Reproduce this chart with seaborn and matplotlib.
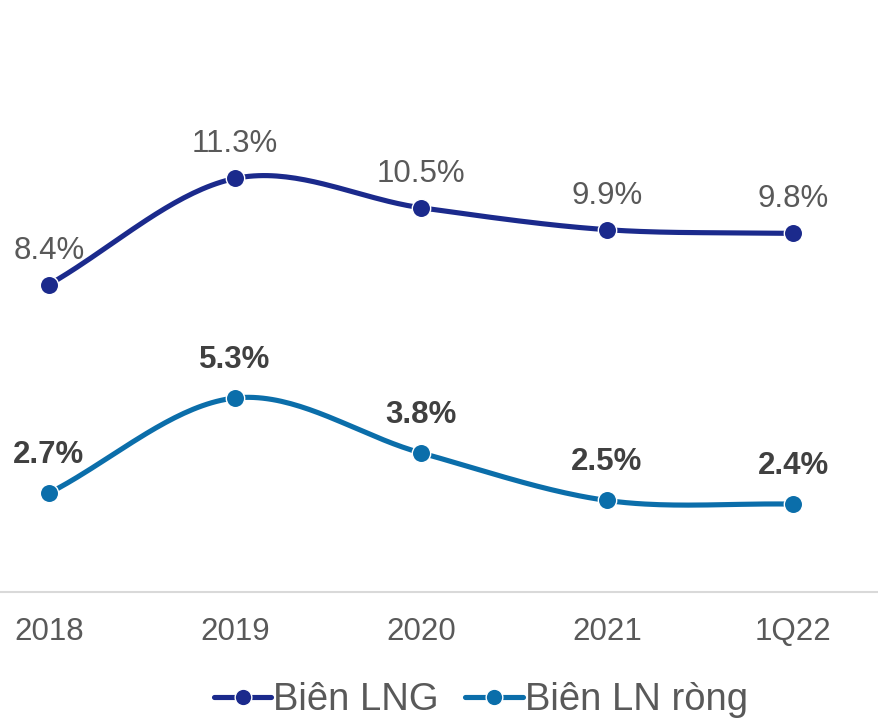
import matplotlib
matplotlib.use("Agg")
import matplotlib.pyplot as plt
from matplotlib.lines import Line2D
import seaborn as sns
import numpy as np
import pandas as pd

periods = ["2018", "2019", "2020", "2021", "1Q22"]
bien_lng = [8.4, 11.3, 10.5, 9.9, 9.8]
bien_ln_rong = [2.7, 5.3, 3.8, 2.5, 2.4]

c_lng = "#1b2a8c"
c_net = "#0b6eaa"
grey = "#595959"

sns.set_style("white")
plt.rcParams["font.family"] = ["Liberation Sans", "DejaVu Sans"]


def smooth(y, n=40):
    # catmull-rom style smoothing, like Excel's smoothed line
    y = np.asarray(y, float)
    p = np.concatenate([[2 * y[0] - y[1]], y, [2 * y[-1] - y[-2]]])
    xs, ys = [], []
    for i in range(len(y) - 1):
        p0, p1, p2, p3 = p[i], p[i + 1], p[i + 2], p[i + 3]
        t = np.linspace(0, 1, n, endpoint=(i == len(y) - 2))
        v = 0.5 * ((2 * p1) + (-p0 + p2) * t + (2 * p0 - 5 * p1 + 4 * p2 - p3) * t**2
                   + (-p0 + 3 * p1 - 3 * p2 + p3) * t**3)
        xs.append(i + t)
        ys.append(v)
    return np.concatenate(xs), np.concatenate(ys)


fig = plt.figure(figsize=(8.79, 7.21), dpi=100)
ax = fig.add_axes([0, 0.179, 1, 0.812])

x = np.arange(len(periods))
for vals, col in [(bien_lng, c_lng), (bien_ln_rong, c_net)]:
    sx, sy = smooth(vals)
    sns.lineplot(x=sx, y=sy, ax=ax, color=col, linewidth=3.7, sort=False)
    sns.scatterplot(x=x, y=vals, ax=ax, color=col, s=175, edgecolor="white",
                    linewidth=1, zorder=5)

for i, v in enumerate(bien_lng):
    ax.text(i, v + 0.93, f"{v:.1f}%", ha="center", va="center", fontsize=22.5, color=grey)
for i, v in enumerate(bien_ln_rong):
    ax.text(i, v + 1.04, f"{v:.1f}%", ha="center", va="center", fontsize=22.5,
            color="#404040", fontweight="bold")

ax.set_xlim(-0.263, 4.462)
ax.set_ylim(0, 16)
ax.set_xticks(x)
ax.set_xticklabels(periods, fontsize=22.5, color=grey)
ax.tick_params(axis="x", length=0, pad=18)
ax.set_yticks([])
for s in ["top", "left", "right"]:
    ax.spines[s].set_visible(False)
ax.spines["bottom"].set_color("#d9d9d9")
ax.spines["bottom"].set_linewidth(1.5)

handles = [
    Line2D([], [], color=c_lng, lw=3.7, marker="o", markersize=12, markeredgecolor="white"),
    Line2D([], [], color=c_net, lw=3.7, marker="o", markersize=12, markeredgecolor="white"),
]
fig.legend(handles, ["Biên LNG", "Biên LN ròng"], loc="center", bbox_to_anchor=(0.547, 0.029),
           ncol=2, frameon=False, fontsize=27.5, labelcolor=grey, handlelength=1.5,
           handletextpad=0.05, columnspacing=0.7)

fig.savefig("out.png", dpi=100)
